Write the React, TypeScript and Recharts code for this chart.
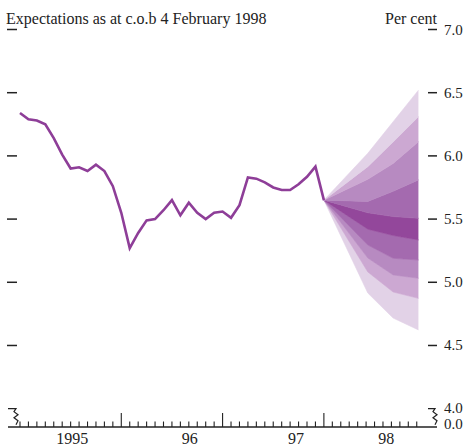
import { ComposedChart, Line, Area, XAxis, YAxis } from "recharts";

const FONT = '"Liberation Serif", "Times New Roman", serif';
const INK = "#222";

// month index: 0 = January 1995
const rate = [
  6.34, 6.29, 6.28, 6.25, 6.14, 6.01, 5.9, 5.91, 5.88, 5.93, 5.88, 5.76,
  5.55, 5.27, 5.39, 5.49, 5.5, 5.57, 5.65, 5.53, 5.63, 5.55, 5.5, 5.55,
  5.56, 5.51, 5.61, 5.83, 5.82, 5.79, 5.75, 5.73, 5.73, 5.775, 5.835, 5.915,
  5.65,
];

// fan: band edges from lowest to highest at each projection point
const fanMonths = [36, 41.2, 44.2, 47.2];
const fanEdges = [
  [5.65, 4.915, 4.717, 4.623],
  [5.65, 5.082, 4.923, 4.873],
  [5.65, 5.192, 5.058, 5.032],
  [5.65, 5.295, 5.19, 5.176],
  [5.65, 5.42, 5.37, 5.335],
  [5.65, 5.55, 5.52, 5.506],
  [5.65, 5.64, 5.72, 5.81],
  [5.65, 5.815, 5.94, 6.112],
  [5.65, 5.915, 6.11, 6.31],
  [5.65, 6.02, 6.27, 6.52],
];
const bandColors = [
  "#e2d2e7", "#cca8d2", "#b78ac1", "#a46aaf", "#93479b",
  "#a46aaf", "#b78ac1", "#cca8d2", "#e2d2e7",
];

const monthTicks = Array.from({ length: 48 }, (_, i) => i);
const yearLabels = ["1995", "96", "97", "98"];
const yearLabelAt = [6.2, 20.1, 32.7, 43.4];
const yTicks = [4, 4.5, 5, 5.5, 6, 6.5, 7];
const Y_FLOOR = 3.855; // broken axis, drawn as 0.0

const W = 468;
const H = 448;
const LEFT = 8;
const RIGHT_W = 31;
const PLOT_W = W - LEFT - RIGHT_W;

type Row = { t: number; rate?: number; [k: string]: any };
const rows: Row[] = rate.map((v, i) => ({ t: i, rate: v }));
fanMonths.forEach((t, j) => {
  let row = rows.find((r) => r.t === t);
  if (!row) {
    row = { t };
    rows.push(row);
  }
  for (let k = 0; k < bandColors.length; k++) {
    row["band" + k] = [fanEdges[k][j], fanEdges[k + 1][j]];
  }
});

function XTick(props: any) {
  const { x, y, payload } = props;
  const v = payload.value;
  const li = yearLabelAt.indexOf(v);
  if (li >= 0) {
    return (
      <text x={x} y={y + 17} textAnchor="middle" fontFamily={FONT} fontSize={16} fill={INK}>
        {yearLabels[li]}
      </text>
    );
  }
  const major = v > 0 && v % 12 === 0;
  return <line x1={x} x2={x} y1={y} y2={y - (major ? 14 : 5.5)} stroke={INK} strokeWidth={1.1} />;
}

// right-axis tick also draws the matching mark on the left edge of the plot
function YTick(props: any) {
  const { x, y, payload } = props;
  const v = payload.value;
  const lx = x - PLOT_W;
  if (v === Y_FLOOR) {
    return (
      <text x={x + 7} y={y - 3} dominantBaseline="central" fontFamily={FONT} fontSize={15} fill={INK}>
        0.0
      </text>
    );
  }
  const label = (
    <text x={x + 7} y={v === 4 ? y - 1 : y} dominantBaseline="central" fontFamily={FONT} fontSize={15} fill={INK}>
      {v.toFixed(1)}
    </text>
  );
  if (v === 4) {
    const left = `M${lx},${y} H${lx + 8} L${lx + 6},${y + 3} L${lx + 10},${y + 6} L${lx + 6},${y + 9} L${lx + 10},${y + 12} L${lx + 8},${y + 16}`;
    const right = `M${x - 9},${y} H${x - 2} L${x - 4},${y + 3} L${x},${y + 6} L${x - 4},${y + 9} L${x},${y + 12} L${x - 2},${y + 16}`;
    return (
      <g>
        <path d={left} fill="none" stroke={INK} strokeWidth={1.2} />
        <path d={right} fill="none" stroke={INK} strokeWidth={1.2} />
        {label}
      </g>
    );
  }
  return (
    <g>
      <line x1={lx - 1} x2={lx + 9} y1={y} y2={y} stroke={INK} strokeWidth={1.5} />
      <line x1={x - 9} x2={x} y1={y} y2={y} stroke={INK} strokeWidth={1.5} />
      {label}
    </g>
  );
}

export default function App() {
  return (
    <div style={{ position: "absolute", left: 0, top: 0, width: W, height: H, background: "#fff" }}>
      <div
        style={{
          position: "absolute", left: 6, top: 11, fontFamily: FONT, fontSize: 16,
          lineHeight: "16px", color: INK, whiteSpace: "nowrap",
        }}
      >
        Expectations as at c.o.b 4 February 1998
      </div>
      <div
        style={{
          position: "absolute", left: 385, top: 11, fontFamily: FONT, fontSize: 16,
          lineHeight: "16px", color: INK, whiteSpace: "nowrap",
        }}
      >
        Per cent
      </div>
      <ComposedChart
        width={W}
        height={H}
        data={rows}
        margin={{ top: 29.5, right: 0, bottom: 0, left: LEFT }}
      >
        <XAxis
          type="number"
          dataKey="t"
          domain={[-1.42, 49.4]}
          allowDataOverflow
          ticks={[...monthTicks, ...yearLabelAt]}
          interval={0}
          tickSize={0}
          tickMargin={0}
          tickLine={false}
          axisLine={{ stroke: INK, strokeWidth: 1.3 }}
          height={21}
          tick={(p: any) => <XTick {...p} />}
        />
        <YAxis
          yAxisId="right"
          orientation="right"
          type="number"
          width={RIGHT_W}
          domain={[Y_FLOOR, 7]}
          allowDataOverflow
          ticks={[Y_FLOOR, ...yTicks]}
          interval={0}
          tickSize={0}
          tickMargin={0}
          axisLine={false}
          tickLine={false}
          tick={(p: any) => <YTick {...p} />}
        />
        {bandColors.map((c, k) => (
          <Area
            key={k}
            yAxisId="right"
            type="linear"
            dataKey={"band" + k}
            fill={c}
            fillOpacity={1}
            stroke={c}
            strokeWidth={0.6}
            dot={false}
            activeDot={false}
            isAnimationActive={false}
          />
        ))}
        <Line
          yAxisId="right"
          type="linear"
          dataKey="rate"
          stroke="#8e3e98"
          strokeWidth={2.6}
          dot={false}
          activeDot={false}
          isAnimationActive={false}
        />
      </ComposedChart>
    </div>
  );
}
